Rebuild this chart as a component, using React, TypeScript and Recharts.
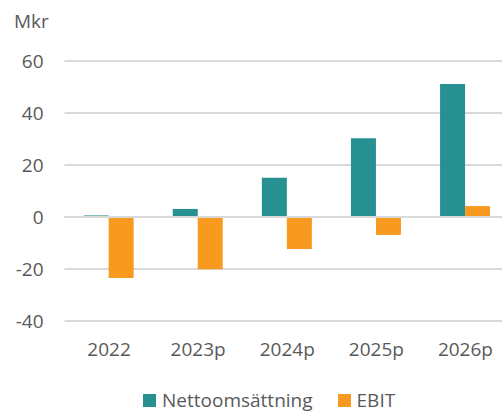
import { BarChart, Bar, XAxis, YAxis, CartesianGrid, ReferenceLine } from "recharts";

const years = ["2022", "2023p", "2024p", "2025p", "2026p"];
const nettoomsattning = [0.6, 3.1, 15.1, 30.3, 51.2];
const ebit = [-23.5, -20.1, -12.3, -6.9, 4.2];
const yTicks = [-40, -20, 0, 20, 40, 60];

const series = [
  { key: "Nettoomsättning", color: "#279192" },
  { key: "EBIT", color: "#f89a20" },
];

const data = years.map((year, i) => ({
  year,
  Nettoomsättning: nettoomsattning[i],
  EBIT: ebit[i],
}));

const FONT = "'Open Sans', 'Noto Sans', sans-serif";
const TEXT = "#595959";

export default function App() {
  return (
    <div style={{ position: "absolute", left: 0, top: 0, width: 502, height: 412, overflow: "hidden", background: "#fff" }}>
      <div style={{ position: "absolute", left: 14, top: 8, fontFamily: FONT, fontSize: 19, color: TEXT }}>Mkr</div>
      <BarChart
        width={510}
        height={412}
        data={data}
        margin={{ top: 61, right: 0, bottom: 61, left: 0 }}
        barCategoryGap="21.5%"
        barGap={0}
      >
        <CartesianGrid vertical={false} stroke="#d9d9d9" strokeWidth={2} />
        <XAxis
          dataKey="year"
          height={30}
          axisLine={false}
          tickLine={false}
          tickSize={0}
          tickMargin={22}
          tick={{ fill: TEXT, fontSize: 19, fontFamily: FONT }}
          interval={0}
        />
        <YAxis
          width={64.5}
          domain={[-40, 60]}
          ticks={yTicks}
          axisLine={false}
          tickLine={false}
          tickSize={0}
          tickMargin={21}
          tick={{ fill: TEXT, fontSize: 19, fontFamily: FONT }}
        />
        <ReferenceLine y={0} stroke="#d9d9d9" strokeWidth={2} />
        {series.map((s) => (
          <Bar key={s.key} dataKey={s.key} fill={s.color} isAnimationActive={false} />
        ))}
      </BarChart>
      <div style={{ position: "absolute", top: 389, left: 143, display: "flex", fontFamily: FONT, fontSize: 19, color: TEXT }}>
        {series.map((s) => (
          <div key={s.key} style={{ display: "flex", alignItems: "center", marginRight: 25 }}>
            <span style={{ width: 13, height: 13, background: s.color, display: "inline-block", marginRight: 6 }} />
            <span style={{ lineHeight: "22px" }}>{s.key}</span>
          </div>
        ))}
      </div>
    </div>
  );
}
